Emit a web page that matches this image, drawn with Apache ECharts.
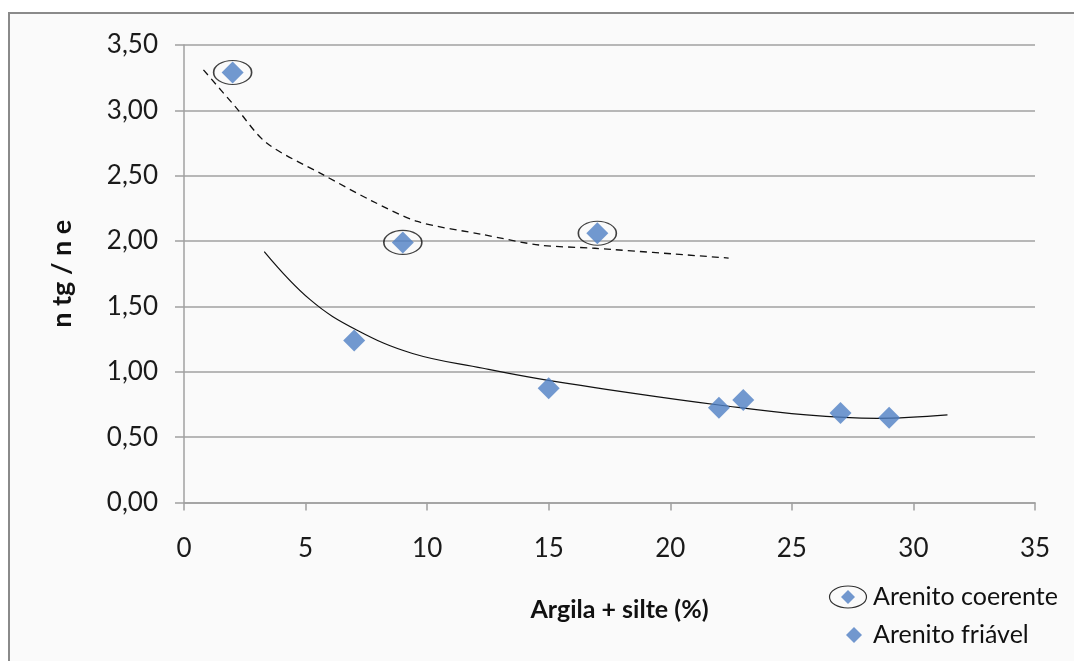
<!DOCTYPE html>
<html>
<head>
<meta charset="utf-8">
<script src="https://cdn.jsdelivr.net/npm/echarts@6/dist/echarts.min.js"></script>
<style>
html,body{margin:0;padding:0;background:#ffffff;}
#chart{width:1074px;height:661px;}
</style>
</head>
<body>
<div id="chart"></div>
<script>
// Data
const coerenteX = [2, 9, 17];
const coerenteY = [3.29, 1.99, 2.06];
const friavelX = [7, 15, 22, 23, 27, 29];
const friavelY = [1.24, 0.875, 0.725, 0.785, 0.685, 0.648];
// Trend lines (as drawn in the reference)
const trendCoerenteX = [0.8, 2.1, 3.4, 5.7, 7.7, 9.6, 12.3, 14.6, 16.9, 22.4];
const trendCoerenteY = [3.31, 3.03, 2.75, 2.51, 2.31, 2.15, 2.05, 1.97, 1.945, 1.87];
const trendFriavelX = [3.3, 5.2, 7.1, 9.4, 12.3, 14.5, 18.5, 22, 25.6, 28.5, 31.4];
const trendFriavelY = [1.92, 1.55, 1.32, 1.14, 1.027, 0.95, 0.835, 0.746, 0.67, 0.644, 0.67];
const xTicks = [0, 5, 10, 15, 20, 25, 30, 35];
const yTicks = [0, 0.5, 1, 1.5, 2, 2.5, 3, 3.5];
const seriesNames = ['Arenito coerente', 'Arenito friável'];
const xTitle = 'Argila + silte (%)';
const yTitle = 'n tg / n e';

const zip = (a, b) => a.map((v, i) => [v, b[i]]);
const BLUE = '#4f7fc4';
const FONT = 'Lato, "Open Sans", sans-serif';

const svgCoer = '<svg xmlns="http://www.w3.org/2000/svg" width="40" height="26"><ellipse cx="20" cy="13" rx="18.5" ry="11" fill="none" stroke="#000" stroke-width="1.2"/><polygon points="20,6 27,13 20,20 13,13" fill="' + BLUE + '"/></svg>';
const svgFri = '<svg xmlns="http://www.w3.org/2000/svg" width="40" height="26"><polygon points="26,5 34,13 26,21 18,13" fill="' + BLUE + '"/></svg>';
const toImg = s => 'image://data:image/svg+xml;charset=utf-8,' + encodeURIComponent(s);

const chart = echarts.init(document.getElementById('chart'));
chart.setOption({
  backgroundColor: '#ffffff',
  animation: false,
  graphic: [{
    type: 'rect', z: -10, silent: true,
    shape: { x: 9, y: 13, width: 1100, height: 700 },
    style: { fill: '#fafafa', stroke: '#8a8a8a', lineWidth: 2 }
  }],
  grid: { left: 184, right: 39, top: 45, bottom: 158.5 },
  xAxis: {
    type: 'value', min: xTicks[0], max: xTicks[xTicks.length - 1], interval: 5,
    name: xTitle, nameLocation: 'middle', nameGap: 95,
    nameTextStyle: { fontFamily: FONT, fontSize: 25, fontWeight: 'bold', color: '#111', padding: [0, 0, 0, 20] },
    axisLine: { show: true, lineStyle: { color: '#a0a0a0', width: 1.5 } },
    axisTick: { show: true, length: 8, lineStyle: { color: '#a0a0a0', width: 1.5 } },
    axisLabel: { fontFamily: FONT, fontSize: 26, color: '#1a1a1a', margin: 33 },
    splitLine: { show: false }
  },
  yAxis: {
    type: 'value', min: yTicks[0], max: yTicks[yTicks.length - 1], interval: 0.5,
    name: yTitle, nameLocation: 'middle', nameGap: 108, nameRotate: 90,
    nameTextStyle: { fontFamily: FONT, fontSize: 27, fontWeight: 'bold', color: '#111' },
    axisLine: { show: true, lineStyle: { color: '#a0a0a0', width: 1.5 } },
    axisTick: { show: true, length: 9, lineStyle: { color: '#a0a0a0', width: 1.5 } },
    axisLabel: { fontFamily: FONT, fontSize: 26, color: '#1a1a1a', margin: 26,
      formatter: v => v.toFixed(2).replace('.', ',') },
    splitLine: { show: true, lineStyle: { color: '#a0a0a0', width: 1.5 } }
  },
  legend: {
    orient: 'vertical', left: 823, top: 579, itemWidth: 40, itemHeight: 26, itemGap: 12,
    textStyle: { fontFamily: FONT, fontSize: 25, color: '#111' },
    data: [
      { name: seriesNames[0], icon: toImg(svgCoer) },
      { name: seriesNames[1], icon: toImg(svgFri) }
    ]
  },
  series: [
    {
      name: 'trend-coerente', type: 'line', data: zip(trendCoerenteX, trendCoerenteY),
      showSymbol: false, smooth: 0.3, silent: true, z: 3,
      lineStyle: { color: '#111', width: 1.3, type: [7, 5] }
    },
    {
      name: 'trend-friavel', type: 'line', data: zip(trendFriavelX, trendFriavelY),
      showSymbol: false, smooth: 0.4, silent: true, z: 3,
      lineStyle: { color: '#111', width: 1.2 }
    },
    {
      name: 'ring', type: 'scatter', data: zip(coerenteX, coerenteY), z: 4,
      symbol: 'circle', symbolSize: [38, 24],
      itemStyle: { color: 'rgba(0,0,0,0)', borderColor: '#111', borderWidth: 1.3 }
    },
    {
      name: seriesNames[0], type: 'scatter', data: zip(coerenteX, coerenteY), z: 5,
      symbol: 'diamond', symbolSize: 22, itemStyle: { color: BLUE }
    },
    {
      name: seriesNames[1], type: 'scatter', data: zip(friavelX, friavelY), z: 5,
      symbol: 'diamond', symbolSize: 22, itemStyle: { color: BLUE }
    }
  ]
});
</script>
</body>
</html>
